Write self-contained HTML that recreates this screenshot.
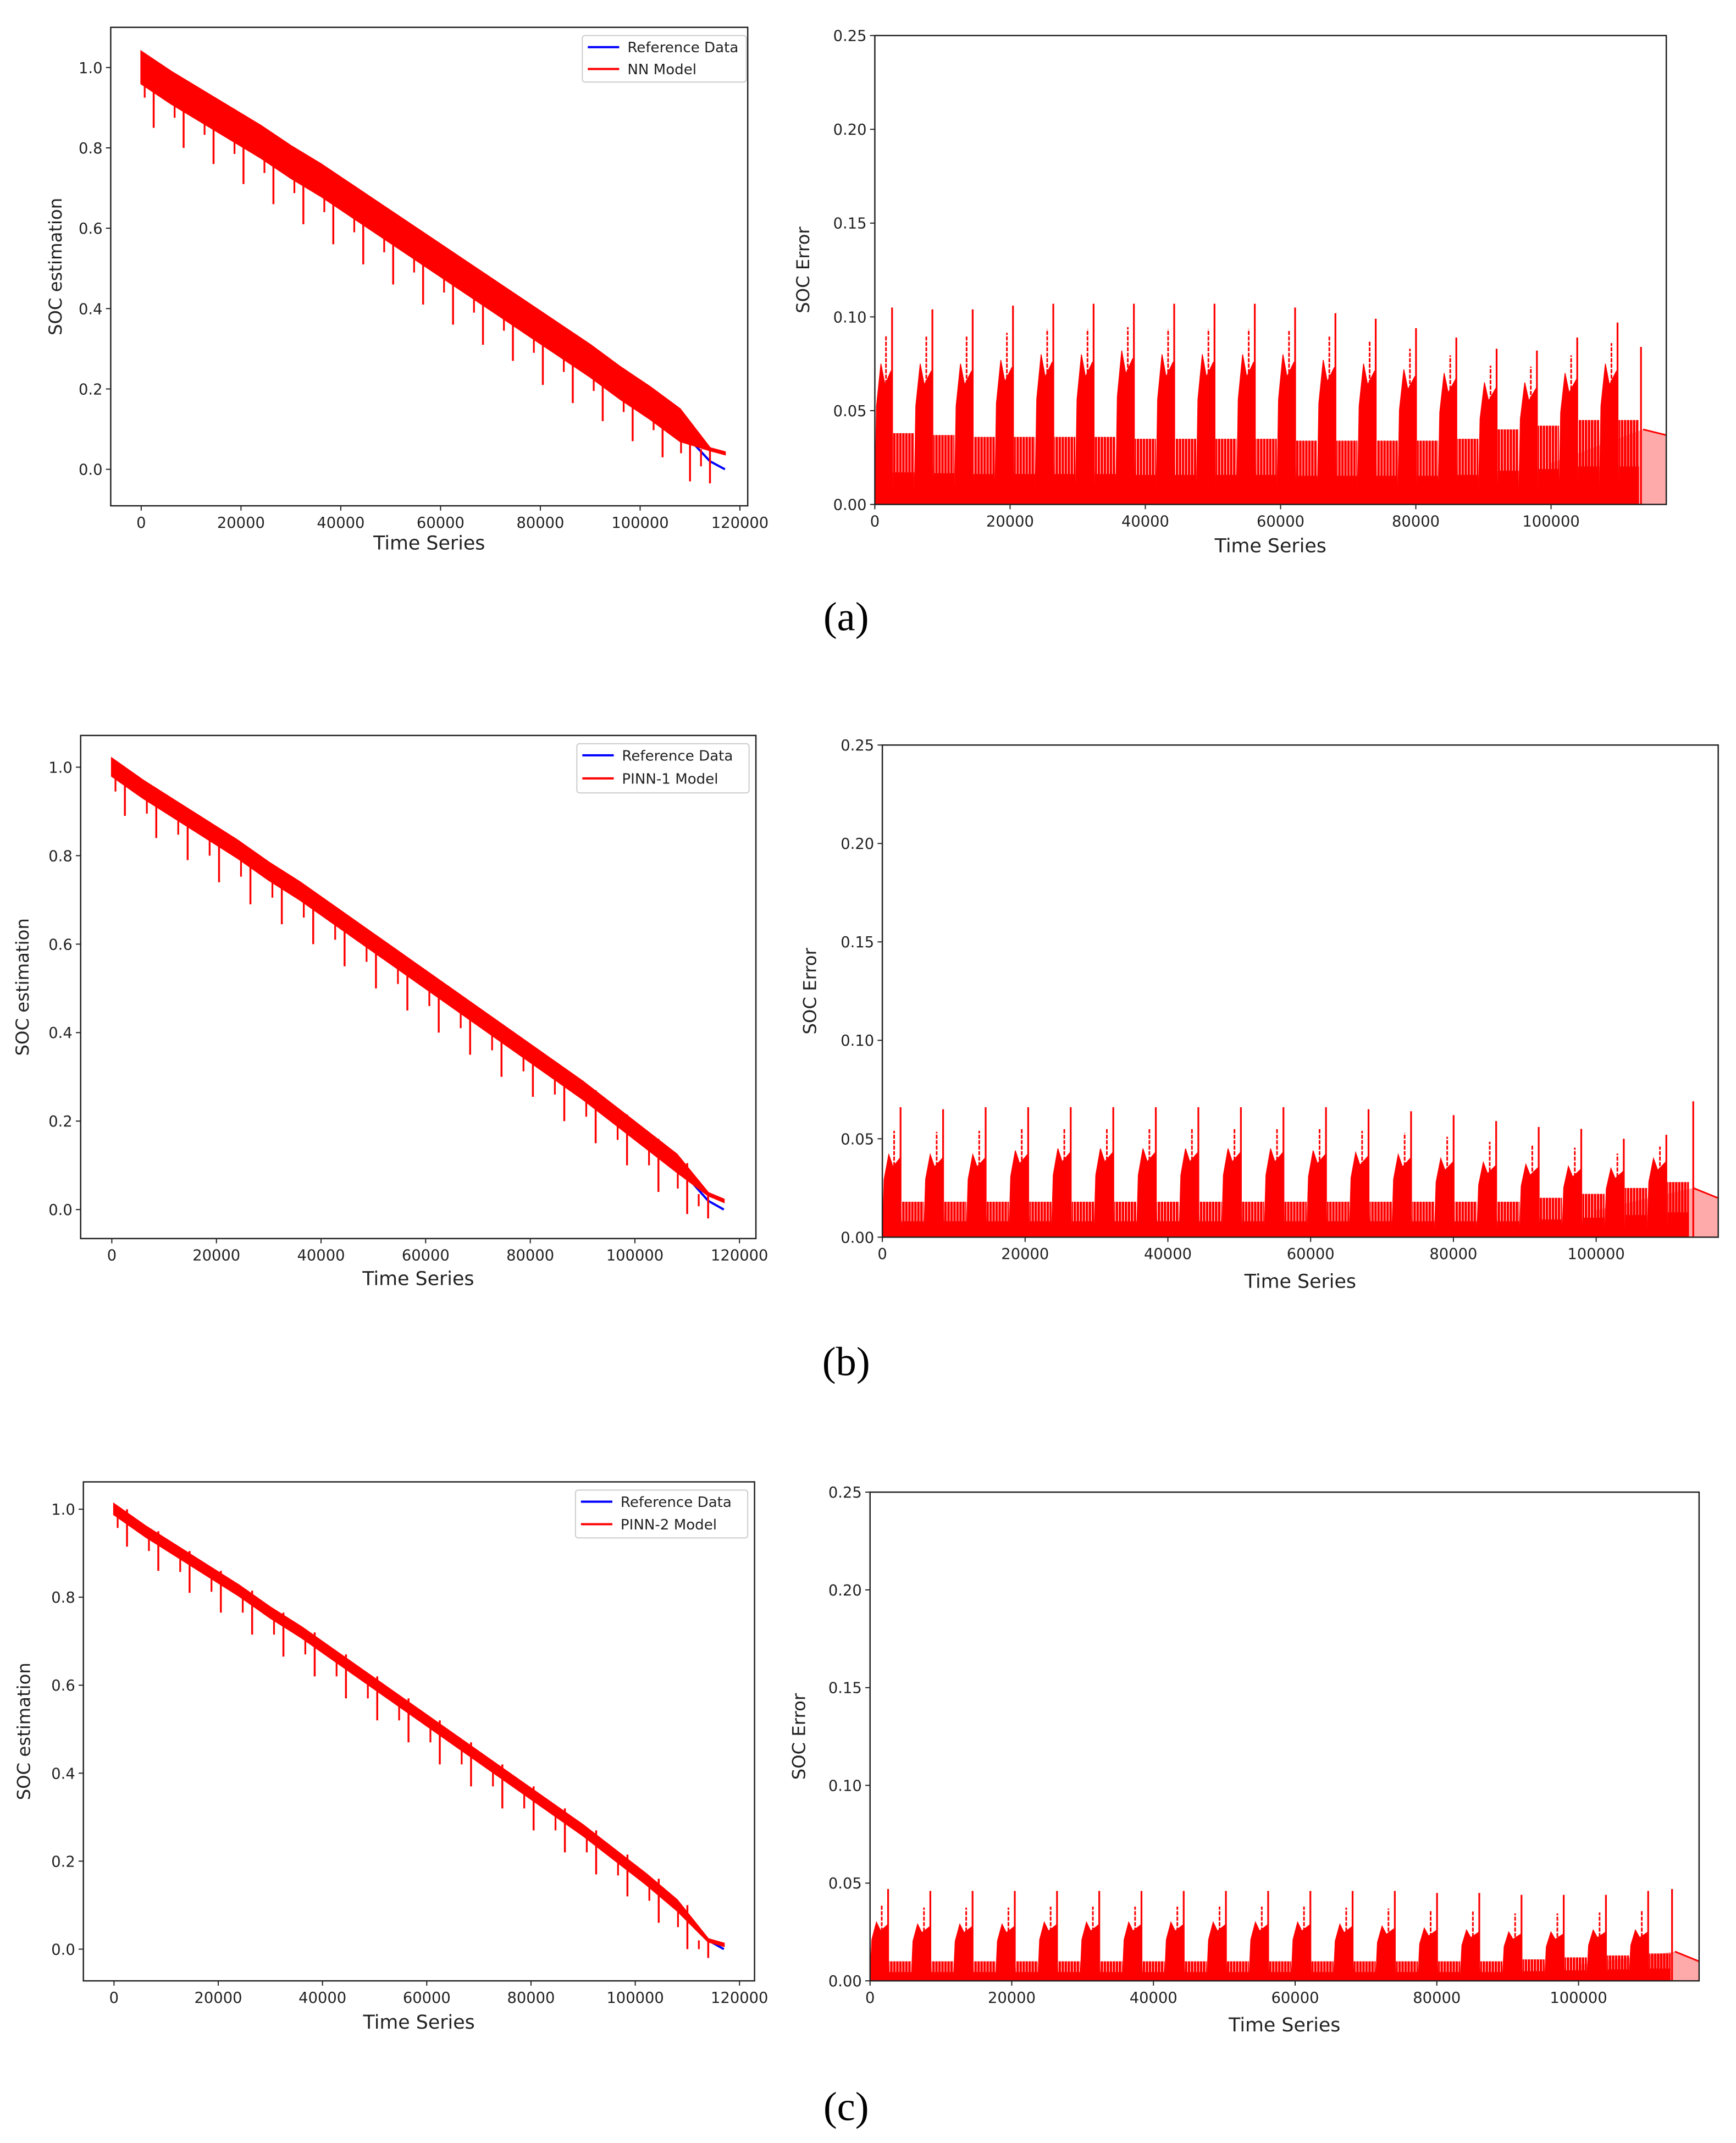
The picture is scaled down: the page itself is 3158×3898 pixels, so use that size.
<!DOCTYPE html>
<html><head><meta charset="utf-8">
<style>
html,body{margin:0;padding:0;background:#fff;}
svg{display:block;}
text{font-family:"DejaVu Sans","Liberation Sans",sans-serif;fill:#222;}
</style></head>
<body>
<svg id="fig" xmlns="http://www.w3.org/2000/svg" width="3158" height="3898" viewBox="0 0 1270 1567.6" preserveAspectRatio="none">
<defs>
<pattern id="stripes" patternUnits="userSpaceOnUse" width="2.2" height="4">
<rect x="0" y="0" width="1.8" height="4" fill="#ff0000"/>
</pattern>
</defs>
<text x="619" y="461" text-anchor="middle" style="font-family:'Liberation Serif',serif;font-size:30px;fill:#000">(a)</text>
<text x="619" y="1006" text-anchor="middle" style="font-family:'Liberation Serif',serif;font-size:30px;fill:#000">(b)</text>
<text x="619" y="1551" text-anchor="middle" style="font-family:'Liberation Serif',serif;font-size:30px;fill:#000">(c)</text>
</svg>
<script>
// ---- SOC estimation data ----
const socTimes = [0,6000,12000,18000,24000,30000,36000,42000,48000,54000,60000,66000,72000,78000,84000,90000,96000,102000,108000,114000,117000];
const socRef   = [1.00,0.95,0.905,0.86,0.815,0.765,0.72,0.67,0.62,0.57,0.52,0.47,0.42,0.37,0.32,0.27,0.215,0.16,0.10,0.02,0.0];
const nnModel  = [1.00,0.95,0.905,0.86,0.815,0.765,0.72,0.67,0.62,0.57,0.52,0.47,0.42,0.37,0.32,0.27,0.215,0.165,0.11,0.05,0.04];
const pinn1Model = [1.00,0.95,0.905,0.86,0.815,0.765,0.72,0.67,0.62,0.57,0.52,0.47,0.42,0.37,0.32,0.27,0.215,0.16,0.105,0.035,0.02];
const pinn2Model = [1.00,0.95,0.905,0.86,0.815,0.765,0.72,0.67,0.62,0.57,0.52,0.47,0.42,0.37,0.32,0.27,0.215,0.16,0.10,0.02,0.01];
const dipTimes = [2500,8500,14500,20500,26500,32500,38500,44500,50500,56500,62500,68500,74500,80500,86500,92500,98500,104500,110000,114000];
const nnDips    = [0.85,0.80,0.76,0.71,0.66,0.61,0.56,0.51,0.46,0.41,0.36,0.31,0.27,0.21,0.165,0.12,0.07,0.03,-0.03,-0.035];
const pinn1Dips = [0.89,0.84,0.79,0.74,0.69,0.645,0.60,0.55,0.50,0.45,0.40,0.35,0.30,0.255,0.20,0.15,0.10,0.04,-0.01,-0.02];
const pinn2Dips = [0.915,0.86,0.81,0.765,0.715,0.665,0.62,0.57,0.52,0.47,0.42,0.37,0.32,0.27,0.22,0.17,0.12,0.06,0.0,-0.02];
const socYTicks = [0.0,0.2,0.4,0.6,0.8,1.0];
const socYLabels = ["0.0","0.2","0.4","0.6","0.8","1.0"];
const socXTicks = [0,20000,40000,60000,80000,100000,120000];
// ---- SOC error data ----
const errSpikeTimes = [2550,8510,14470,20430,26390,32350,38310,44270,50230,56190,62150,68110,74070,80030,85990,91950,97910,103870,109830];
const nnSpikes   = [0.105,0.104,0.104,0.106,0.107,0.107,0.107,0.107,0.107,0.107,0.105,0.102,0.099,0.094,0.089,0.083,0.082,0.089,0.097];
const nnCluster  = [0.075,0.075,0.075,0.077,0.080,0.080,0.082,0.080,0.080,0.080,0.080,0.077,0.075,0.072,0.070,0.065,0.065,0.070,0.075];
const nnBetween  = [0.038,0.037,0.036,0.036,0.036,0.036,0.035,0.035,0.035,0.035,0.034,0.034,0.034,0.034,0.035,0.040,0.042,0.045,0.045];
const pinn1Spikes  = [0.066,0.065,0.066,0.066,0.066,0.066,0.066,0.066,0.066,0.066,0.066,0.065,0.064,0.062,0.059,0.056,0.055,0.050,0.052];
const pinn1Cluster = [0.042,0.042,0.042,0.044,0.045,0.045,0.045,0.045,0.045,0.045,0.044,0.043,0.042,0.040,0.038,0.037,0.036,0.035,0.040];
const pinn1Between = [0.018,0.018,0.018,0.018,0.018,0.018,0.018,0.018,0.018,0.018,0.018,0.018,0.018,0.018,0.018,0.020,0.022,0.025,0.028];
const pinn2Spikes  = [0.047,0.046,0.046,0.046,0.046,0.046,0.046,0.046,0.046,0.046,0.046,0.046,0.046,0.045,0.045,0.044,0.044,0.044,0.046];
const pinn2Cluster = [0.030,0.029,0.029,0.029,0.030,0.030,0.030,0.030,0.030,0.030,0.030,0.029,0.028,0.027,0.026,0.025,0.025,0.026,0.026];
const pinn2Between = [0.010,0.010,0.010,0.010,0.010,0.010,0.010,0.010,0.010,0.010,0.010,0.010,0.010,0.010,0.010,0.011,0.012,0.013,0.014];
const tailTimes = [113600,117000];
const nnTail = [0.040,0.037];
const pinn1Tail = [0.025,0.020];
const pinn2Tail = [0.015,0.010];
const finalSpikeTimes = [113300,113600,113200];
const finalSpikes = [0.084,0.069,0.047];
const errYTicks = [0,0.05,0.10,0.15,0.20,0.25];
const errYLabels = ["0.00","0.05","0.10","0.15","0.20","0.25"];
const errXTicks = [0,20000,40000,60000,80000,100000];

const NS = "http://www.w3.org/2000/svg";
const svg = document.getElementById("fig");
function mk(tag, attrs, parent){
  const e = document.createElementNS(NS, tag);
  for (const k in attrs) e.setAttribute(k, attrs[k]);
  (parent||svg).appendChild(e);
  return e;
}
function scale(d0,p0,d1,p1){ return v => p0 + (v-d0)*(p1-p0)/(d1-d0); }

function axesFrame(g, box, xs, ys, xticks, yticks, ylabels, ytitle, ytx, xtitleY){
  const fr = mk("rect",{x:box.x0,y:box.y0,width:box.x1-box.x0,height:box.y1-box.y0,fill:"none",stroke:"#222","stroke-width":1},g);
  
  
  xticks.forEach(t=>{
    const x = xs(t);
    const tk = mk("line",{x1:x,x2:x,y1:box.y1,y2:box.y1+3.5,stroke:"#222","stroke-width":0.8},g);
    
    
    const tl = mk("text",{x:x,y:box.y1+16,"text-anchor":"middle","font-size":"11"},g);
    
    
    tl.textContent = String(t);
  });
  yticks.forEach((t,i)=>{
    const y = ys(t);
    const tk = mk("line",{x1:box.x0-3.5,x2:box.x0,y1:y,y2:y,stroke:"#222","stroke-width":0.8},g);
    
    
    const tl = mk("text",{x:box.x0-6,y:y+4,"text-anchor":"end","font-size":"11"},g);
    
    
    tl.textContent = ylabels[i];
  });
  const xt = mk("text",{x:(box.x0+box.x1)/2,y:xtitleY,"text-anchor":"middle","font-size":"14"},g);
  
  
  xt.textContent = "Time Series";
  const cy = (box.y0+box.y1)/2;
  const yt = mk("text",{x:ytx,y:cy,"text-anchor":"middle","font-size":"13",transform:`rotate(-90 ${ytx} ${cy})`},g);
  
  
  yt.textContent = ytitle;
}

function socPanel(name, box, xs, ys, model, dips, halfW, legendBox, modelName, ytx, xtitleY){
  const g = mk("g",{});
  
  
  const refPts = socTimes.map((t,i)=>xs(t)+","+ys(socRef[i])).join(" ");
  const rl = mk("polyline",{points:refPts,fill:"none",stroke:"#0000ff","stroke-width":1.6},g);
  
  
  const up = socTimes.map((t,i)=>xs(t)+","+ys(model[i]+(i>=socTimes.length-2?0.003:halfW)));
  const lo = socTimes.map((t,i)=>xs(t)+","+ys(model[i]-(i>=socTimes.length-2?0.003:halfW))).reverse();
  const band = mk("polygon",{points:up.concat(lo).join(" "),fill:"#ff0000",stroke:"#ff0000","stroke-width":1.2},g);
  
  
  dips.forEach((d,i)=>{
    const t = dipTimes[i];
    const base = model[Math.min(Math.floor(t/6000), model.length-2)];
    const dl = mk("line",{x1:xs(t),x2:xs(t),y1:ys(base),y2:ys(d),stroke:"#ff0000","stroke-width":1.4},g);
    
    
    const t2 = t - 1800;
    if (t2 > 0) {
      const dl2 = mk("line",{x1:xs(t2),x2:xs(t2),y1:ys(base),y2:ys((base+d)/2),stroke:"#ff0000","stroke-width":1.3},g);
      
      
    }
  });
  axesFrame(g, box, xs, ys, socXTicks, socYTicks, socYLabels, "SOC estimation", ytx, xtitleY);
  const lg = mk("g",{},g);
  
  
  const lr = mk("rect",{x:legendBox.x,y:legendBox.y,width:legendBox.w,height:legendBox.h,rx:2,fill:"#fff",stroke:"#ccc","stroke-width":0.8},lg);
  
  
  const rows = [["#0000ff","Reference Data"],["#ff0000",modelName]];
  rows.forEach((r,i)=>{
    const yy = legendBox.y + 8.5 + i*legendBox.h*0.47;
    const ll = mk("line",{x1:legendBox.x+4,x2:legendBox.x+27,y1:yy,y2:yy,stroke:r[0],"stroke-width":1.6},lg);
    
    
    const lt = mk("text",{x:legendBox.x+33,y:yy+3.8,"font-size":"10.5"},lg);
    
    
    lt.textContent = r[1];
  });
}

function errPanel(name, box, xs, ys, spikes, cluster, between, tail, finalIdx, ytx, xtitleY){
  const g = mk("g",{});
  
  
  const y0 = ys(0);
  const pink = mk("polygon",{points:`${xs(100000)},${y0} ${xs(100000)},${ys(tail[0]*0.55)} ${xs(tailTimes[0])},${ys(tail[0])} ${xs(tailTimes[1])},${ys(tail[1])} ${xs(tailTimes[1])},${y0}`,fill:"#ffaaaa",stroke:"none"},g);
  
  
  errSpikeTimes.forEach((t,i)=>{
    const cs = Math.max(0, t-2700), ce = t+150;
    const next = i+1<errSpikeTimes.length ? errSpikeTimes[i+1]-2700 : 113000;
    const bw = mk("rect",{x:xs(ce),y:ys(between[i]),width:Math.max(0,xs(next)-xs(ce)),height:y0-ys(between[i]),fill:"url(#stripes)"},g);
    
    
    const bl = mk("rect",{x:xs(ce),y:ys(between[i]*0.45),width:Math.max(0,xs(next)-xs(ce)),height:y0-ys(between[i]*0.45),fill:"#ff0000"},g);
    
    
    const cl = mk("polygon",{points:`${xs(cs)},${y0} ${xs(cs+250)},${ys(cluster[i]*0.7)} ${xs(cs+900)},${ys(cluster[i])} ${xs(cs+1500)},${ys(cluster[i]*0.85)} ${xs(ce-300)},${ys(cluster[i]*0.95)} ${xs(ce)},${y0}`,fill:"#ff0000",stroke:"#ff0000","stroke-width":0.6},g);
    
    
    const sp = mk("line",{x1:xs(t),x2:xs(t),y1:y0,y2:ys(spikes[i]),stroke:"#ff0000","stroke-width":1.3},g);
    
    
    const sp2 = mk("line",{x1:xs(t-900),x2:xs(t-900),y1:y0,y2:ys((spikes[i]+cluster[i])/2),stroke:"#ff0000","stroke-width":1.2,"stroke-dasharray":"3 1"},g);
    
    
  });
  const ft = finalSpikeTimes[finalIdx];
  const fs = mk("line",{x1:xs(ft),x2:xs(ft),y1:y0,y2:ys(finalSpikes[finalIdx]),stroke:"#ff0000","stroke-width":1.3},g);
  
  
  const tl = mk("polyline",{points:`${xs(tailTimes[0])},${ys(tail[0])} ${xs(tailTimes[1])},${ys(tail[1])}`,fill:"none",stroke:"#ff0000","stroke-width":1.2},g);
  
  
  axesFrame(g, box, xs, ys, errXTicks, errYTicks, errYLabels, "SOC Error", ytx, xtitleY);
}

socPanel("soc-panel-a",{x0:81,x1:547,y0:20,y1:370},scale(0,103.3,120000,541.3),scale(0,343.3,1,49.4),nnModel,nnDips,0.04,{x:426,y:26,w:120,h:34},"NN Model",45,402);
errPanel("error-panel-a",{x0:640,x1:1219,y0:26,y1:369},scale(0,640,100000,1134.7),scale(0,369,0.25,26),nnSpikes,nnCluster,nnBetween,nnTail,0,592,404);
socPanel("soc-panel-b",{x0:59,x1:553,y0:538,y1:906},scale(0,81.8,120000,541),scale(0,884.8,1,561.2),pinn1Model,pinn1Dips,0.02,{x:422,y:544,w:126,h:36},"PINN-1 Model",21,940);
errPanel("error-panel-b",{x0:645.5,x1:1257,y0:545,y1:905},scale(0,645.5,100000,1167.7),scale(0,905,0.25,545),pinn1Spikes,pinn1Cluster,pinn1Between,pinn1Tail,1,597,942);
socPanel("soc-panel-c",{x0:61,x1:552,y0:1084,y1:1449},scale(0,83.4,120000,541),scale(0,1425.8,1,1104),pinn2Model,pinn2Dips,0.012,{x:421,y:1090,w:126,h:35},"PINN-2 Model",22,1484);
errPanel("error-panel-c",{x0:636.5,x1:1243,y0:1091.5,y1:1449},scale(0,636.5,100000,1154.8),scale(0,1449,0.25,1091.5),pinn2Spikes,pinn2Cluster,pinn2Between,pinn2Tail,2,589,1486);
</script>
</body></html>
